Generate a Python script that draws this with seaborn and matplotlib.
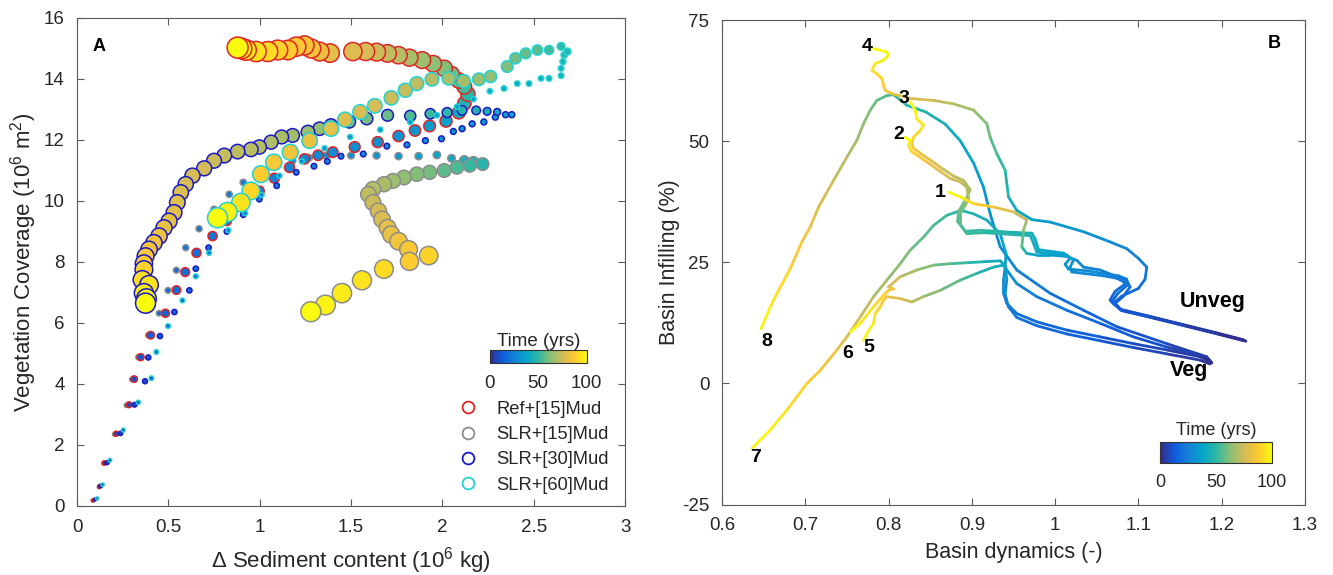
import numpy as np
import pandas as pd
import matplotlib
matplotlib.use("Agg")
import matplotlib.pyplot as plt
import seaborn as sns
from matplotlib.colors import LinearSegmentedColormap, Normalize
from matplotlib.cm import ScalarMappable
from matplotlib.lines import Line2D

# ---------------- Panel A data (x: sediment 10^6 kg, y: coverage 10^6 m2, t: yrs) ----------------
REF_X = [0.086, 0.123, 0.150, 0.214, 0.284, 0.313, 0.348, 0.403, 0.484, 0.544, 0.592, 0.654, 0.742, 0.820, 0.910, 0.998, 1.080, 1.163, 1.245, 1.320, 1.400, 1.520, 1.646, 1.760, 1.850, 1.930, 2.020, 2.090, 2.120, 2.140, 2.120, 2.090, 2.050, 2.010, 1.950, 1.890, 1.820, 1.760, 1.700, 1.640, 1.580, 1.510, 1.385, 1.328, 1.282, 1.245, 1.200, 1.154, 1.099, 1.044, 0.980, 0.925, 0.900, 0.879]
REF_Y = [0.18, 0.64, 1.41, 2.37, 3.32, 4.16, 4.88, 5.60, 6.32, 7.08, 7.67, 8.30, 8.85, 9.35, 9.85, 10.33, 10.75, 11.10, 11.38, 11.50, 11.60, 11.77, 11.93, 12.13, 12.31, 12.46, 12.62, 12.90, 13.20, 13.50, 13.75, 13.95, 14.15, 14.35, 14.50, 14.62, 14.70, 14.78, 14.84, 14.88, 14.90, 14.90, 14.85, 14.90, 15.00, 15.10, 15.06, 14.95, 14.95, 14.90, 14.90, 14.95, 15.00, 15.03]
REF_T = [0, 2, 4, 6, 8, 10, 12, 14, 16, 18, 19, 20, 21, 22, 23, 24, 25, 26, 27, 28, 29, 30, 31, 32, 33, 35, 37, 41, 45, 49, 53, 56, 59, 62, 64, 66, 68, 70, 72, 74, 76, 78, 80, 82, 84, 85, 86, 88, 90, 92, 94, 96, 98, 100]

SLR15_X = [0.090, 0.120, 0.145, 0.205, 0.270, 0.300, 0.335, 0.390, 0.449, 0.498, 0.544, 0.595, 0.668, 0.750, 0.833, 0.910, 0.990, 1.080, 1.180, 1.270, 1.364, 1.500, 1.640, 1.760, 1.870, 1.970, 2.050, 2.120, 2.170, 2.220, 2.150, 2.080, 2.010, 1.930, 1.860, 1.790, 1.730, 1.680, 1.620, 1.595, 1.620, 1.650, 1.670, 1.700, 1.720, 1.760, 1.815, 1.820, 1.925, 1.680, 1.560, 1.450, 1.360, 1.280]
SLR15_Y = [0.18, 0.62, 1.40, 2.35, 3.30, 4.15, 4.88, 5.60, 6.32, 7.07, 7.73, 8.47, 9.09, 9.73, 10.22, 10.61, 10.90, 11.15, 11.32, 11.42, 11.49, 11.49, 11.49, 11.47, 11.47, 11.51, 11.40, 11.33, 11.27, 11.21, 11.16, 11.10, 11.00, 10.94, 10.88, 10.77, 10.66, 10.55, 10.39, 10.22, 9.95, 9.67, 9.40, 9.12, 8.90, 8.68, 8.41, 8.02, 8.21, 7.77, 7.40, 6.98, 6.59, 6.37]
SLR15_T = [0, 2, 4, 6, 8, 10, 12, 14, 16, 18, 19, 20, 21, 22, 23, 24, 25, 26, 27, 28, 29, 30, 32, 34, 36, 38, 40, 43, 46, 48, 51, 54, 57, 60, 62, 64, 66, 68, 70, 72, 74, 76, 78, 80, 82, 84, 86, 88, 90, 92, 94, 96, 98, 100]

SLR30_X = [0.100, 0.130, 0.165, 0.238, 0.315, 0.372, 0.390, 0.454, 0.533, 0.615, 0.650, 0.720, 0.820, 0.910, 0.998, 1.093, 1.200, 1.297, 1.370, 1.445, 1.567, 1.696, 1.806, 1.907, 1.995, 2.060, 2.108, 2.163, 2.227, 2.290, 2.346, 2.380, 2.300, 2.245, 2.185, 2.108, 2.026, 1.934, 1.824, 1.700, 1.586, 1.490, 1.390, 1.328, 1.264, 1.180, 1.120, 1.062, 0.998, 0.952, 0.879, 0.806, 0.750, 0.696, 0.632, 0.595, 0.568, 0.549, 0.531, 0.504, 0.476, 0.449, 0.421, 0.394, 0.375, 0.366, 0.366, 0.357, 0.394, 0.366, 0.380, 0.375]
SLR30_Y = [0.22, 0.66, 1.42, 2.38, 3.32, 4.09, 4.87, 5.57, 6.36, 7.07, 7.78, 8.47, 9.00, 9.55, 10.06, 10.50, 10.94, 11.14, 11.30, 11.47, 11.54, 11.80, 11.84, 11.98, 12.04, 12.28, 12.37, 12.53, 12.59, 12.75, 12.83, 12.83, 12.92, 12.94, 12.97, 12.97, 12.90, 12.86, 12.79, 12.81, 12.70, 12.60, 12.48, 12.37, 12.26, 12.15, 12.10, 11.93, 11.77, 11.69, 11.62, 11.49, 11.32, 11.07, 10.83, 10.55, 10.28, 9.95, 9.62, 9.34, 9.12, 8.85, 8.63, 8.41, 8.19, 7.95, 7.75, 7.42, 7.25, 6.98, 6.80, 6.65]
SLR30_T = [0, 2, 4, 6, 8, 10, 12, 14, 16, 18, 19, 20, 21, 22, 23, 24, 25, 26, 27, 28, 29, 30, 31, 32, 33, 34, 35, 36, 37, 38, 39, 40, 42, 44, 46, 48, 50, 52, 55, 58, 60, 62, 64, 65, 66, 67, 68, 69, 70, 71, 72, 73, 74, 75, 76, 77, 78, 79, 80, 81, 82, 83, 84, 85, 86, 88, 90, 92, 94, 96, 98, 100]

SLR60_X = [0.110, 0.140, 0.180, 0.253, 0.335, 0.407, 0.434, 0.498, 0.577, 0.650, 0.723, 0.828, 0.920, 1.010, 1.108, 1.230, 1.355, 1.495, 1.660, 1.824, 1.970, 2.080, 2.170, 2.260, 2.337, 2.410, 2.474, 2.540, 2.584, 2.650, 2.650, 2.660, 2.667, 2.685, 2.650, 2.584, 2.520, 2.456, 2.400, 2.355, 2.264, 2.200, 2.117, 2.035, 1.943, 1.860, 1.797, 1.720, 1.630, 1.550, 1.467, 1.390, 1.273, 1.167, 1.077, 1.007, 0.952, 0.897, 0.824, 0.769]
SLR60_Y = [0.25, 0.70, 1.50, 2.49, 3.40, 4.19, 5.05, 5.90, 6.74, 7.53, 8.30, 9.04, 9.60, 10.20, 10.83, 11.30, 11.73, 12.10, 12.34, 12.59, 12.81, 13.09, 13.34, 13.60, 13.69, 13.85, 13.85, 14.02, 14.02, 14.11, 14.35, 14.57, 14.79, 14.90, 15.07, 14.95, 14.95, 14.84, 14.68, 14.41, 14.08, 13.99, 13.93, 14.02, 13.99, 13.85, 13.63, 13.38, 13.12, 12.92, 12.67, 12.37, 11.98, 11.60, 11.27, 10.88, 10.33, 9.95, 9.64, 9.45]
SLR60_T = [0, 2, 4, 6, 8, 10, 12, 14, 16, 18, 20, 22, 23, 24, 25, 26, 27, 28, 30, 32, 34, 36, 37, 38, 39, 40, 41, 42, 43, 44, 45, 46, 47, 48, 50, 53, 56, 58, 60, 62, 64, 66, 68, 69, 70, 72, 73, 74, 76, 77, 78, 80, 82, 84, 86, 88, 91, 94, 97, 100]

LEGEND_LABELS = ["Ref+[15]Mud", "SLR+[15]Mud", "SLR+[30]Mud", "SLR+[60]Mud"]

# ---------------- Panel B data (x: basin dynamics, y: infilling %, t: yrs) ----------------
T1_X = [1.228, 1.194, 1.154, 1.114, 1.080, 1.072, 1.082, 1.090, 1.086, 1.070, 1.054, 1.034, 1.026, 1.014, 0.994, 0.978, 0.966, 0.960, 0.962, 0.966, 0.950, 0.926, 0.902, 0.894, 0.886, 0.872]
T1_Y = [8.8, 10.3, 12.0, 13.7, 15.1, 16.5, 18.0, 19.9, 21.3, 22.3, 23.4, 24.0, 25.4, 26.2, 26.5, 26.5, 26.8, 28.2, 31.6, 33.7, 35.4, 36.4, 37.1, 37.8, 38.5, 39.5]
T1_T = [0, 3, 6, 9, 12, 14, 16, 19, 21, 23, 25, 27, 29, 31, 34, 37, 42, 52, 62, 70, 77, 84, 90, 94, 97, 100]

T2_X = [1.226, 1.192, 1.152, 1.112, 1.078, 1.068, 1.075, 1.086, 1.082, 1.074, 1.058, 1.034, 1.020, 1.018, 1.022, 1.014, 0.994, 0.978, 0.973, 0.970, 0.950, 0.934, 0.914, 0.894, 0.886, 0.886, 0.892, 0.896, 0.894, 0.886, 0.874, 0.860, 0.846, 0.834, 0.828, 0.824, 0.826, 0.820]
T2_Y = [9.0, 10.5, 12.2, 13.9, 15.3, 16.8, 18.5, 20.2, 21.0, 21.7, 22.2, 22.7, 23.0, 24.0, 25.4, 26.5, 26.8, 27.1, 29.4, 30.5, 30.7, 30.9, 31.1, 30.9, 32.9, 35.0, 36.8, 38.1, 40.5, 41.6, 42.3, 44.0, 45.7, 47.1, 47.8, 49.1, 50.2, 50.8]
T2_T = [0, 3, 6, 9, 12, 14, 17, 20, 22, 24, 26, 28, 30, 32, 34, 36, 38, 40, 42, 44, 46, 48, 50, 52, 55, 58, 62, 66, 70, 73, 76, 79, 83, 87, 90, 94, 97, 100]

T3_X = [1.227, 1.193, 1.153, 1.113, 1.079, 1.066, 1.072, 1.084, 1.086, 1.076, 1.060, 1.040, 1.016, 1.012, 1.018, 1.010, 0.992, 0.980, 0.976, 0.972, 0.946, 0.930, 0.910, 0.892, 0.883, 0.884, 0.890, 0.894, 0.898, 0.890, 0.878, 0.864, 0.850, 0.838, 0.830, 0.828, 0.830, 0.838, 0.842, 0.834, 0.832, 0.826]
T3_Y = [8.9, 10.4, 12.1, 13.8, 15.2, 17.2, 19.0, 20.5, 21.5, 22.2, 22.6, 23.2, 23.6, 24.6, 25.8, 26.9, 27.3, 27.6, 29.8, 31.0, 31.2, 31.4, 31.6, 31.4, 33.4, 35.5, 37.2, 38.4, 40.0, 41.9, 42.8, 44.4, 46.1, 47.5, 48.5, 49.5, 50.8, 52.2, 53.3, 54.6, 56.4, 58.1]
T3_T = [0, 3, 6, 9, 12, 14, 17, 20, 22, 24, 26, 28, 30, 32, 34, 36, 38, 40, 42, 44, 46, 48, 50, 52, 55, 58, 61, 64, 67, 70, 73, 76, 79, 82, 85, 88, 90, 92, 94, 96, 98, 100]

T4_X = [1.229, 1.195, 1.155, 1.115, 1.080, 1.070, 1.080, 1.100, 1.108, 1.110, 1.100, 1.086, 1.066, 1.034, 0.994, 0.972, 0.954, 0.944, 0.940, 0.930, 0.922, 0.918, 0.902, 0.878, 0.854, 0.826, 0.804, 0.796, 0.794, 0.792, 0.786, 0.780, 0.784, 0.794, 0.800, 0.798, 0.782]
T4_Y = [8.7, 10.2, 11.9, 13.6, 15.0, 16.5, 18.0, 19.6, 21.5, 24.0, 25.8, 27.8, 29.2, 31.3, 33.3, 33.8, 35.7, 38.5, 44.0, 47.4, 50.8, 53.6, 56.4, 57.7, 58.4, 58.8, 59.8, 60.5, 61.5, 62.9, 63.9, 64.6, 66.0, 66.7, 67.7, 68.4, 69.1]
T4_T = [0, 3, 6, 9, 12, 14, 16, 18, 20, 22, 24, 26, 28, 31, 34, 37, 40, 44, 49, 53, 57, 61, 66, 70, 74, 79, 83, 86, 88, 90, 92, 94, 95, 96, 97, 98, 100]

T5_X = [1.188, 1.174, 1.134, 1.094, 1.054, 1.014, 0.978, 0.954, 0.942, 0.938, 0.926, 0.906, 0.886, 0.862, 0.842, 0.828, 0.814, 0.798, 0.794, 0.790, 0.784, 0.782, 0.774, 0.770]
T5_Y = [4.2, 5.8, 7.5, 9.6, 12.4, 15.1, 17.9, 20.6, 23.4, 24.4, 24.0, 22.7, 21.3, 19.2, 17.9, 16.8, 17.5, 17.9, 17.2, 15.8, 14.4, 12.4, 10.3, 8.9]
T5_T = [0, 4, 8, 12, 16, 20, 24, 28, 33, 38, 43, 49, 55, 61, 67, 72, 77, 82, 86, 89, 92, 95, 98, 100]

T6_X = [1.186, 1.174, 1.134, 1.094, 1.054, 1.014, 0.978, 0.954, 0.944, 0.940, 0.942, 0.940, 0.934, 0.914, 0.894, 0.874, 0.854, 0.834, 0.814, 0.800, 0.806, 0.800, 0.794, 0.782, 0.766, 0.754]
T6_Y = [4.0, 4.8, 6.1, 7.4, 8.8, 10.2, 11.9, 13.6, 15.8, 18.4, 21.5, 24.2, 25.3, 25.1, 24.9, 24.7, 24.4, 23.4, 22.0, 19.9, 19.5, 19.2, 18.2, 15.8, 12.4, 10.6]
T6_T = [0, 3, 6, 9, 12, 15, 18, 21, 24, 27, 31, 35, 40, 45, 50, 55, 60, 66, 72, 78, 82, 86, 89, 93, 97, 100]

T7_X = [1.186, 1.174, 1.134, 1.094, 1.054, 1.014, 0.978, 0.954, 0.942, 0.938, 0.938, 0.940, 0.941, 0.934, 0.918, 0.902, 0.887, 0.870, 0.854, 0.842, 0.826, 0.814, 0.798, 0.782, 0.766, 0.750, 0.738, 0.718, 0.702, 0.678, 0.658, 0.636]
T7_Y = [4.5, 5.5, 6.9, 8.2, 9.6, 11.0, 12.7, 14.4, 16.5, 18.6, 21.3, 24.0, 26.8, 30.9, 33.7, 35.0, 35.7, 34.7, 32.6, 30.2, 27.5, 24.7, 21.3, 17.9, 13.7, 9.6, 6.9, 2.7, 0.0, -5.5, -9.6, -13.4]
T7_T = [0, 3, 6, 9, 12, 15, 18, 21, 24, 27, 30, 33, 36, 40, 43, 46, 48, 51, 54, 57, 60, 63, 66, 70, 74, 78, 82, 86, 89, 93, 97, 100]

T8_X = [1.188, 1.182, 1.134, 1.074, 1.034, 0.994, 0.954, 0.934, 0.922, 0.914, 0.902, 0.886, 0.868, 0.845, 0.822, 0.806, 0.798, 0.786, 0.778, 0.770, 0.762, 0.750, 0.734, 0.716, 0.706, 0.696, 0.682, 0.668, 0.658, 0.647]
T8_Y = [4.3, 5.5, 8.2, 11.7, 15.1, 18.6, 23.4, 28.2, 35.0, 40.5, 45.5, 50.1, 53.5, 56.0, 57.4, 59.6, 59.4, 58.4, 56.4, 53.6, 50.2, 46.7, 41.9, 36.4, 32.3, 29.2, 23.7, 19.2, 15.8, 11.3]
T8_T = [0, 3, 8, 13, 17, 21, 25, 28, 31, 34, 37, 40, 43, 46, 49, 52, 55, 58, 61, 64, 67, 70, 74, 78, 82, 85, 89, 93, 96, 100]

TRAJ_LABELS = ["1", "2", "3", "4", "5", "6", "7", "8"]

# ---------------- style ----------------
sns.set_style("ticks")
plt.rcParams["font.family"] = ["Liberation Sans", "DejaVu Sans"]
plt.rcParams["mathtext.fontset"] = "custom"
plt.rcParams["mathtext.rm"] = "Liberation Sans"
plt.rcParams["mathtext.it"] = "Liberation Sans:italic"
plt.rcParams["mathtext.bf"] = "Liberation Sans:bold"
plt.rcParams["axes.unicode_minus"] = False

TEXT = "#262626"
SPINE = "#5a5a5a"
PARULA = LinearSegmentedColormap.from_list(
    "parula", ["#352a87", "#0f5cdd", "#1481d6", "#06a4ca", "#2eb7a4",
               "#87bf77", "#d1bb59", "#fec832", "#f9fb0e"])
NORM = Normalize(0, 100)

fig = plt.figure(figsize=(13.33, 5.75), dpi=100)
axA = fig.add_axes([0.0578, 0.12, 0.4111, 0.8487])
axB = fig.add_axes([0.5416, 0.1226, 0.4374, 0.8426])


def style(ax):
    for sp in ax.spines.values():
        sp.set_color(SPINE)
        sp.set_linewidth(0.8)
    ax.tick_params(direction="in", top=True, right=True, length=5, width=0.8,
                   color=SPINE, labelcolor=TEXT, labelsize=13.5, pad=9)


# ---------------- Panel A ----------------
series = [
    (SLR15_X, SLR15_Y, SLR15_T, "#8c8c8c", ([0, 20, 40, 48, 72, 100], [3, 6, 7.5, 12.5, 15.5, 20])),
    (REF_X, REF_Y, REF_T, "#e02424", ([0, 10, 20, 37, 60, 100], [3, 6.5, 9, 12, 16, 21])),
    (SLR30_X, SLR30_Y, SLR30_T, "#1a1ac4", ([0, 10, 40, 48, 66, 85, 100], [3, 5, 6, 9.5, 13.5, 16.5, 20])),
    (SLR60_X, SLR60_Y, SLR60_T, "#22d2d2", ([0, 10, 45, 55, 70, 85, 100], [3, 4.5, 5.5, 10, 13.5, 16, 20])),
]
for i, (xs, ys, ts, ec, (tk, dk)) in enumerate(series):
    df = pd.DataFrame({"x": xs, "y": ys, "t": ts})
    diam_px = np.interp(df["t"].to_numpy(), tk, dk)
    s = (diam_px * 72.0 / 100.0) ** 2
    sns.scatterplot(data=df, x="x", y="y", hue="t", palette=PARULA, hue_norm=(0, 100),
                    s=s, edgecolor=ec, linewidth=1.1, legend=False, ax=axA, zorder=2 + i)

axA.set_xlim(0, 3)
axA.set_ylim(0, 16)
axA.set_xticks([0, 0.5, 1, 1.5, 2, 2.5, 3])
axA.set_xticklabels(["0", "0.5", "1", "1.5", "2", "2.5", "3"])
axA.set_yticks(range(0, 17, 2))
style(axA)
axA.set_xlabel("\u0394 Sediment content (10$^6$ kg)", fontsize=16, color=TEXT)
axA.set_ylabel("Vegetation Coverage (10$^6$ m$^2$)", fontsize=16, color=TEXT)
axA.xaxis.set_label_coords(0.5, -0.080)
axA.yaxis.set_label_coords(-0.069, 0.5)
axA.text(0.041, 0.941, "A", transform=axA.transAxes, fontsize=13, fontweight="bold",
         ha="center", va="center", color="black")

handles = [Line2D([], [], linestyle="none", marker="o", markersize=8.5, markerfacecolor="none",
                  markeredgecolor=c, markeredgewidth=1.3)
           for c in ["#e02424", "#8c8c8c", "#1a1ac4", "#22d2d2"]]
fig.legend(handles, LEGEND_LABELS, loc="upper left", bbox_to_anchor=(0.3443, 0.3030),
           bbox_transform=fig.transFigure, frameon=False, fontsize=13.2,
           handlelength=1.0, handletextpad=1.05, labelspacing=0.45, borderpad=0,
           borderaxespad=0, labelcolor=TEXT)

caxA = fig.add_axes([0.3673, 0.3687, 0.0729, 0.0226])
cbA = fig.colorbar(ScalarMappable(norm=NORM, cmap=PARULA), cax=caxA, orientation="horizontal")
cbA.set_ticks([0, 50, 100])
cbA.outline.set_linewidth(0.8)
cbA.outline.set_edgecolor("#333333")
caxA.tick_params(labelsize=13.5, length=2, direction="in", pad=9, labelcolor=TEXT, color="#333333")
caxA.set_title("Time (yrs)", fontsize=13.5, pad=3, color=TEXT)

# ---------------- Panel B ----------------
trajs = [(T1_X, T1_Y, T1_T), (T2_X, T2_Y, T2_T), (T3_X, T3_Y, T3_T), (T4_X, T4_Y, T4_T),
         (T5_X, T5_Y, T5_T), (T6_X, T6_Y, T6_T), (T7_X, T7_Y, T7_T), (T8_X, T8_Y, T8_T)]
rows = []
seg = 0
for xs, ys, ts in trajs:
    for j in range(len(xs) - 1):
        tm = 0.5 * (ts[j] + ts[j + 1])
        rows.append((seg, xs[j], ys[j], tm))
        rows.append((seg, xs[j + 1], ys[j + 1], tm))
        seg += 1
segdf = pd.DataFrame(rows, columns=["seg", "x", "y", "t"])
sns.lineplot(data=segdf, x="x", y="y", hue="t", units="seg", estimator=None, sort=False,
             palette=PARULA, hue_norm=(0, 100), legend=False, linewidth=2.0,
             solid_capstyle="round", ax=axB)

axB.set_xlim(0.6, 1.3)
axB.set_ylim(-25, 75)
axB.set_xticks([0.6, 0.7, 0.8, 0.9, 1.0, 1.1, 1.2, 1.3])
axB.set_xticklabels(["0.6", "0.7", "0.8", "0.9", "1", "1.1", "1.2", "1.3"])
axB.set_yticks([-25, 0, 25, 50, 75])
style(axB)
axB.set_xlabel("Basin dynamics (-)", fontsize=15.5, color=TEXT)
axB.set_ylabel("Basin Infilling (%)", fontsize=15.5, color=TEXT)
axB.xaxis.set_label_coords(0.5, -0.077)
axB.yaxis.set_label_coords(-0.072, 0.5)
axB.text(0.947, 0.952, "B", transform=axB.transAxes, fontsize=13, fontweight="bold",
         ha="center", va="center", color="black")

label_pos = [(0.862, 39.4), (0.812, 51.3), (0.818, 58.7), (0.774, 69.6),
             (0.776, 7.4), (0.751, 6.2), (0.640, -15.3), (0.654, 8.6)]
for lab, (lx, ly) in zip(TRAJ_LABELS, label_pos):
    axB.text(lx, ly, lab, fontsize=14, fontweight="bold", ha="center", va="center", color="black")
axB.text(1.1895, 16.98, "Unveg", fontsize=15.5, fontweight="bold", ha="center", va="center", color="black")
axB.text(1.161, 2.74, "Veg", fontsize=15.5, fontweight="bold", ha="center", va="center", color="black")

caxB = fig.add_axes([0.8705, 0.1953, 0.0836, 0.0365])
cbB = fig.colorbar(ScalarMappable(norm=NORM, cmap=PARULA), cax=caxB, orientation="horizontal")
cbB.set_ticks([0, 50, 100])
cbB.outline.set_linewidth(0.8)
cbB.outline.set_edgecolor("#333333")
caxB.tick_params(labelsize=13, length=2, direction="in", pad=8, labelcolor=TEXT, color="#333333")
caxB.set_title("Time (yrs)", fontsize=13, pad=5, color=TEXT)

fig.savefig("out.png", dpi=100)
